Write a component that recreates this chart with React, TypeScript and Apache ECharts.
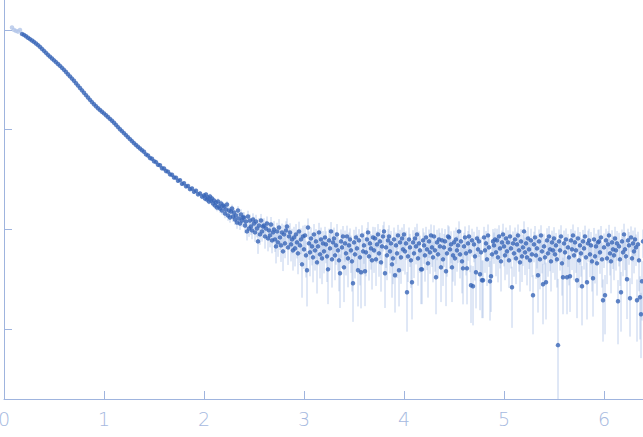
import React, { useEffect, useRef } from "react";
import * as echarts from "echarts";

// Excluded (light) points at the lowest q
const qExcluded = [0.08, 0.1, 0.12, 0.14, 0.16];
const logIExcluded = [3.025, 3.0, 2.99, 2.983, 3.0];

// Smooth low-q part (log10 intensity, sigma in linear intensity units)
const qLow = [
  0.18, 0.2, 0.22, 0.24, 0.26, 0.28, 0.3, 0.32, 0.34, 0.36, 0.38, 0.4, 0.42, 0.44, 0.46, 0.48,
  0.5, 0.52, 0.54, 0.56, 0.58, 0.6, 0.62, 0.64, 0.66, 0.68, 0.7, 0.72, 0.74, 0.76, 0.78, 0.8,
  0.82, 0.84, 0.86, 0.88, 0.9, 0.92, 0.94, 0.96, 0.98, 1.0, 1.02, 1.04, 1.06, 1.08, 1.1, 1.12,
  1.14, 1.16, 1.18, 1.2, 1.22, 1.24, 1.26, 1.28, 1.3, 1.32, 1.34, 1.36, 1.38, 1.4, 1.42, 1.44,
  1.46, 1.48, 1.5, 1.52, 1.54, 1.56, 1.58, 1.6, 1.62, 1.64, 1.66, 1.68, 1.7, 1.72, 1.74, 1.76,
  1.78, 1.8, 1.82, 1.84, 1.86, 1.88, 1.9, 1.92, 1.94, 1.96, 1.98,
];
const logILow = [
  2.96, 2.95, 2.937, 2.922, 2.908, 2.894, 2.88, 2.864, 2.848, 2.83, 2.81, 2.79, 2.77, 2.75, 2.732, 2.713,
  2.695, 2.677, 2.658, 2.64, 2.62, 2.6, 2.578, 2.556, 2.534, 2.512, 2.49, 2.466, 2.442, 2.418, 2.394, 2.37,
  2.346, 2.322, 2.299, 2.276, 2.255, 2.235, 2.215, 2.197, 2.18, 2.163, 2.145, 2.127, 2.108, 2.09, 2.07, 2.048,
  2.026, 2.004, 1.985, 1.965, 1.945, 1.925, 1.905, 1.885, 1.865, 1.847, 1.829, 1.811, 1.793, 1.778, 1.752, 1.741,
  1.716, 1.709, 1.684, 1.675, 1.649, 1.643, 1.614, 1.611, 1.586, 1.579, 1.552, 1.548, 1.521, 1.519, 1.488, 1.494,
  1.457, 1.463, 1.432, 1.435, 1.404, 1.411, 1.378, 1.388, 1.352, 1.361, 1.329,
];
const sigmaLow = [
  5.2, 5.0, 4.9, 4.7, 4.6, 4.4, 4.3, 4.1, 4.0, 3.9, 3.7, 3.6, 3.5, 3.4, 3.3, 3.2,
  3.1, 3.0, 2.9, 2.8, 2.7, 2.6, 2.6, 2.5, 2.4, 2.3, 2.3, 2.2, 2.1, 2.1, 2.0, 2.0,
  1.9, 1.9, 1.8, 1.8, 1.7, 1.7, 1.7, 1.6, 1.6, 1.6, 1.5, 1.5, 1.5, 1.4, 1.4, 1.4,
  1.4, 1.3, 1.3, 1.3, 1.3, 1.3, 1.2, 1.2, 1.2, 1.2, 1.2, 1.2, 1.2, 1.1, 1.1, 1.1,
  1.1, 1.1, 1.1, 1.1, 1.1, 1.1, 1.1, 1.1, 1.1, 1.1, 1.1, 1.1, 1.1, 1.2, 1.1, 1.2,
  1.1, 1.2, 1.2, 1.1, 1.2, 1.2, 1.2, 1.2, 1.2, 1.3, 1.2,
];

// Noisy high-q part
const qHigh = [
  2.0, 2.01, 2.02, 2.03, 2.04, 2.05, 2.06, 2.07, 2.08, 2.09,
  2.1, 2.11, 2.12, 2.13, 2.14, 2.15, 2.16, 2.17, 2.18, 2.19,
  2.2, 2.21, 2.22, 2.23, 2.24, 2.25, 2.26, 2.27, 2.28, 2.29,
  2.3, 2.31, 2.32, 2.33, 2.34, 2.35, 2.36, 2.37, 2.38, 2.39,
  2.4, 2.41, 2.42, 2.43, 2.44, 2.45, 2.46, 2.47, 2.48, 2.49,
  2.5, 2.51, 2.52, 2.53, 2.54, 2.55, 2.56, 2.57, 2.58, 2.59,
  2.6, 2.61, 2.62, 2.63, 2.64, 2.65, 2.66, 2.67, 2.68, 2.69,
  2.7, 2.71, 2.72, 2.73, 2.74, 2.75, 2.76, 2.77, 2.78, 2.79,
  2.8, 2.81, 2.82, 2.83, 2.84, 2.85, 2.86, 2.87, 2.88, 2.89,
  2.9, 2.91, 2.92, 2.93, 2.94, 2.95, 2.96, 2.97, 2.98, 2.99,
  3.0, 3.01, 3.02, 3.03, 3.04, 3.05, 3.06, 3.07, 3.08, 3.09,
  3.1, 3.11, 3.12, 3.13, 3.14, 3.15, 3.16, 3.17, 3.18, 3.19,
  3.2, 3.21, 3.22, 3.23, 3.24, 3.25, 3.26, 3.27, 3.28, 3.29,
  3.3, 3.31, 3.32, 3.33, 3.34, 3.35, 3.36, 3.37, 3.38, 3.39,
  3.4, 3.41, 3.42, 3.43, 3.44, 3.45, 3.46, 3.47, 3.48, 3.49,
  3.5, 3.51, 3.52, 3.53, 3.54, 3.55, 3.56, 3.57, 3.58, 3.59,
  3.6, 3.61, 3.62, 3.63, 3.64, 3.65, 3.66, 3.67, 3.68, 3.69,
  3.7, 3.71, 3.72, 3.73, 3.74, 3.75, 3.76, 3.77, 3.78, 3.79,
  3.8, 3.81, 3.82, 3.83, 3.84, 3.85, 3.86, 3.87, 3.88, 3.89,
  3.9, 3.91, 3.92, 3.93, 3.94, 3.95, 3.96, 3.97, 3.98, 3.99,
  4.0, 4.01, 4.02, 4.03, 4.04, 4.05, 4.06, 4.07, 4.08, 4.09,
  4.1, 4.11, 4.12, 4.13, 4.14, 4.15, 4.16, 4.17, 4.18, 4.19,
  4.2, 4.21, 4.22, 4.23, 4.24, 4.25, 4.26, 4.27, 4.28, 4.29,
  4.3, 4.31, 4.32, 4.33, 4.34, 4.35, 4.36, 4.37, 4.38, 4.39,
  4.4, 4.41, 4.42, 4.43, 4.44, 4.45, 4.46, 4.47, 4.48, 4.49,
  4.5, 4.51, 4.52, 4.53, 4.54, 4.55, 4.56, 4.57, 4.58, 4.59,
  4.6, 4.61, 4.62, 4.63, 4.64, 4.65, 4.66, 4.67, 4.68, 4.69,
  4.7, 4.71, 4.72, 4.73, 4.74, 4.75, 4.76, 4.77, 4.78, 4.79,
  4.8, 4.81, 4.82, 4.83, 4.84, 4.85, 4.86, 4.87, 4.88, 4.89,
  4.9, 4.91, 4.92, 4.93, 4.94, 4.95, 4.96, 4.97, 4.98, 4.99,
  5.0, 5.01, 5.02, 5.03, 5.04, 5.05, 5.06, 5.07, 5.08, 5.09,
  5.1, 5.11, 5.12, 5.13, 5.14, 5.15, 5.16, 5.17, 5.18, 5.19,
  5.2, 5.21, 5.22, 5.23, 5.24, 5.25, 5.26, 5.27, 5.28, 5.29,
  5.3, 5.31, 5.32, 5.33, 5.34, 5.35, 5.36, 5.37, 5.38, 5.39,
  5.4, 5.41, 5.42, 5.43, 5.44, 5.45, 5.46, 5.47, 5.48, 5.49,
  5.5, 5.51, 5.52, 5.53, 5.54, 5.55, 5.56, 5.57, 5.58, 5.59,
  5.6, 5.61, 5.62, 5.63, 5.64, 5.65, 5.66, 5.67, 5.68, 5.69,
  5.7, 5.71, 5.72, 5.73, 5.74, 5.75, 5.76, 5.77, 5.78, 5.79,
  5.8, 5.81, 5.82, 5.83, 5.84, 5.85, 5.86, 5.87, 5.88, 5.89,
  5.9, 5.91, 5.92, 5.93, 5.94, 5.95, 5.96, 5.97, 5.98, 5.99,
  6.0, 6.01, 6.02, 6.03, 6.04, 6.05, 6.06, 6.07, 6.08, 6.09,
  6.1, 6.11, 6.12, 6.13, 6.14, 6.15, 6.16, 6.17, 6.18, 6.19,
  6.2, 6.21, 6.22, 6.23, 6.24, 6.25, 6.26, 6.27, 6.28, 6.29,
  6.3, 6.31, 6.32, 6.33, 6.34, 6.35, 6.36, 6.37, 6.38, 6.39,
];
const logIHigh = [
  1.34, 1.31, 1.35, 1.3, 1.32, 1.28, 1.33, 1.29, 1.31, 1.26,
  1.29, 1.24, 1.27, 1.22, 1.28, 1.23, 1.21, 1.26, 1.19, 1.24,
  1.23, 1.16, 1.2, 1.25, 1.14, 1.19, 1.12, 1.18, 1.21, 1.13,
  1.17, 1.1, 1.14, 1.07, 1.19, 1.11, 1.06, 1.15, 1.09, 1.12,
  1.12, 1.04, 1.08, 0.98, 1.13, 1.01, 1.09, 1.03, 0.99, 1.1,
  1.06, 0.97, 1.08, 1.01, 0.88, 1.04, 0.95, 1.09, 0.98, 1.03,
  1.04, 0.93, 1.01, 1.06, 0.91, 0.99, 0.94, 1.05, 0.89, 0.97,
  1.0, 0.9, 0.83, 0.98, 0.87, 1.02, 0.92, 0.84, 0.97, 0.78,
  0.95, 0.86, 0.99, 1.03, 0.82, 0.93, 0.97, 0.85, 0.9, 0.79,
  0.92, 0.81, 0.95, 0.87, 0.76, 0.98, 0.84, 0.9, 0.65, 0.93,
  0.8, 0.94, 0.74, 0.59, 1.02, 0.86, 0.77, 0.91, 0.83, 0.72,
  0.95, 0.79, 0.88, 0.67, 0.83, 0.97, 0.75, 0.9, 0.71, 0.86,
  0.78, 0.92, 0.85, 0.73, 0.6, 0.89, 0.81, 0.98, 0.7, 0.87,
  0.91, 0.74, 0.84, 0.95, 0.79, 0.69, 0.56, 0.88, 0.82, 0.93,
  0.62, 0.86, 0.76, 0.93, 0.71, 0.84, 0.9, 0.79, 0.68, 0.46,
  0.87, 0.75, 0.92, 0.81, 0.59, 0.89, 0.72, 0.57, 0.94, 0.78,
  0.84, 0.58, 0.77, 0.9, 0.97, 0.73, 0.86, 0.81, 0.69, 0.92,
  0.79, 0.91, 0.7, 0.85, 0.95, 0.76, 0.88, 0.67, 0.83, 0.93,
  0.98, 0.56, 0.82, 0.74, 0.89, 0.93, 0.78, 0.86, 0.65, 0.71,
  0.9, 0.54, 0.84, 0.76, 0.94, 0.59, 0.87, 0.72, 0.91, 0.8,
  0.95, 0.78, 0.86, 0.37, 0.73, 0.9, 0.82, 0.69, 0.47, 0.87,
  0.76, 0.91, 0.83, 0.95, 0.71, 0.86, 0.79, 0.6, 0.6, 0.89,
  0.84, 0.74, 0.92, 0.8, 0.66, 0.88, 0.77, 0.94, 0.82, 0.72,
  0.93, 0.79, 0.52, 0.87, 0.75, 0.9, 0.83, 0.62, 0.89, 0.7,
  0.82, 0.88, 0.58, 0.76, 0.93, 0.92, 0.8, 0.85, 0.62, 0.74,
  0.87, 0.71, 0.9, 0.79, 0.84, 0.98, 0.75, 0.88, 0.68, 0.61,
  0.83, 0.92, 0.76, 0.61, 0.86, 0.93, 0.78, 0.44, 0.89, 0.43,
  0.85, 0.73, 0.57, 0.91, 0.8, 0.88, 0.55, 0.77, 0.49, 0.49,
  0.92, 0.79, 0.86, 0.7, 0.94, 0.82, 0.48, 0.53, 0.75, 0.88,
  0.84, 0.9, 0.77, 0.89, 0.72, 0.93, 0.81, 0.68, 0.87, 0.95,
  0.83, 0.74, 0.91, 0.78, 0.87, 0.69, 0.93, 0.81, 0.42, 0.86,
  0.76, 0.9, 0.71, 0.85, 0.94, 0.79, 0.67, 0.88, 0.73, 0.82,
  0.98, 0.77, 0.86, 0.72, 0.91, 0.8, 0.69, 0.89, 0.75, 0.34,
  0.85, 0.92, 0.74, 0.81, 0.54, 0.88, 0.7, 0.94, 0.78, 0.45,
  0.83, 0.72, 0.47, 0.89, 0.76, 0.93, 0.8, 0.68, 0.87, 0.79,
  0.91, 0.75, 0.84, 0.7, -0.16, 0.88, 0.79, 0.93, 0.66, 0.52,
  0.86, 0.77, 0.9, 0.52, 0.82, 0.72, 0.53, 0.89, 0.8, 0.94,
  0.74, 0.87, 0.79, 0.49, 0.91, 0.69, 0.84, 0.76, 0.43, 0.88,
  0.81, 0.93, 0.72, 0.47, 0.86, 0.89, 0.75, 0.84, 0.68, 0.51,
  0.9, 0.73, 0.83, 0.66, 0.87, 0.88, 0.77, 0.92, 0.7, 0.29,
  0.82, 0.34, 0.89, 0.71, 0.85, 0.94, 0.76, 0.68, 0.87, 0.8,
  0.74, 0.91, 0.79, 0.86, 0.28, 0.83, 0.7, 0.37, 0.88, 0.77,
  0.95, 0.8, 0.73, 0.5, 0.89, 0.84, 0.31, 0.92, 0.71, 0.86,
  0.78, 0.9, 0.82, 0.29, 0.85, 0.69, 0.32, 0.15, 0.48, 0.88,
];
const sigmaHigh = [
  1.2, 1.3, 1.2, 1.3, 1.3, 1.2, 1.4, 1.3, 1.3, 1.4,
  1.3, 1.4, 1.3, 1.4, 1.4, 1.3, 1.5, 1.4, 1.4, 1.5,
  1.4, 1.5, 1.5, 1.4, 1.6, 1.5, 1.5, 1.6, 1.5, 1.6,
  1.6, 1.5, 1.7, 1.6, 1.6, 1.7, 1.6, 1.8, 1.7, 1.7,
  1.7, 1.8, 1.7, 1.8, 1.9, 1.8, 1.8, 1.9, 1.8, 1.9,
  1.9, 1.8, 2.0, 1.9, 1.9, 2.0, 1.9, 2.0, 2.0, 1.9,
  2.0, 2.1, 2.0, 2.0, 2.1, 2.0, 2.1, 2.1, 2.0, 2.1,
  2.1, 2.0, 2.2, 2.1, 2.1, 2.2, 2.1, 2.2, 2.1, 2.2,
  2.2, 2.1, 2.3, 2.2, 2.2, 2.3, 2.2, 2.3, 2.2, 2.3,
  2.3, 2.2, 2.4, 2.3, 2.2, 2.4, 2.3, 2.3, 2.4, 2.4,
  2.3, 2.4, 2.2, 2.2, 2.4, 2.3, 2.5, 2.3, 2.4, 2.3,
  2.4, 2.3, 2.5, 2.4, 2.4, 2.3, 2.4, 2.5, 2.3, 2.4,
  2.4, 2.3, 2.5, 2.4, 2.2, 2.4, 2.5, 2.3, 2.4, 2.5,
  2.3, 2.4, 2.5, 2.4, 2.3, 2.5, 2.0, 2.4, 2.5, 2.3,
  2.3, 2.5, 2.3, 2.4, 2.5, 2.4, 2.3, 2.5, 2.4, 1.7,
  2.5, 2.4, 2.3, 2.5, 2.2, 2.3, 2.5, 2.1, 2.3, 2.5,
  2.4, 2.1, 2.5, 2.4, 2.5, 2.3, 2.4, 2.5, 2.4, 2.3,
  2.5, 2.4, 2.3, 2.5, 2.4, 2.4, 2.5, 2.3, 2.4, 2.5,
  2.4, 2.0, 2.5, 2.4, 2.3, 2.5, 2.4, 2.4, 2.4, 2.3,
  2.5, 2.0, 2.4, 2.5, 2.4, 2.2, 2.5, 2.4, 2.3, 2.5,
  2.4, 2.5, 2.3, 1.4, 2.4, 2.5, 2.4, 2.3, 1.7, 2.4,
  2.5, 2.4, 2.3, 2.5, 2.4, 2.3, 2.5, 2.2, 2.2, 2.5,
  2.4, 2.5, 2.3, 2.4, 2.5, 2.4, 2.3, 2.5, 2.4, 2.3,
  2.5, 2.4, 1.9, 2.5, 2.4, 2.3, 2.5, 2.3, 2.5, 2.3,
  2.4, 2.5, 2.1, 2.4, 2.5, 2.4, 2.3, 2.5, 2.3, 2.5,
  2.3, 2.4, 2.5, 2.4, 2.3, 2.5, 2.4, 2.3, 2.5, 2.3,
  2.5, 2.4, 2.3, 2.3, 2.4, 2.5, 2.3, 1.6, 2.4, 1.6,
  2.4, 2.3, 2.1, 2.5, 2.4, 2.3, 2.0, 2.4, 1.8, 1.8,
  2.3, 2.5, 2.4, 2.3, 2.5, 2.4, 1.8, 1.9, 2.4, 2.5,
  2.4, 2.3, 2.5, 2.4, 2.3, 2.5, 2.4, 2.4, 2.3, 2.5,
  2.5, 2.4, 2.3, 2.5, 2.4, 2.3, 2.5, 2.4, 1.6, 2.3,
  2.4, 2.5, 2.3, 2.4, 2.5, 2.4, 2.3, 2.5, 2.4, 2.3,
  2.5, 2.4, 2.3, 2.5, 2.4, 2.3, 2.5, 2.4, 2.3, 1.3,
  2.4, 2.5, 2.3, 2.4, 2.0, 2.4, 2.5, 2.3, 2.4, 1.7,
  2.3, 2.4, 1.7, 2.5, 2.4, 2.3, 2.5, 2.4, 2.3, 2.5,
  2.4, 2.5, 2.3, 2.4, 2.5, 2.4, 2.3, 2.5, 2.4, 1.9,
  2.5, 2.4, 2.3, 1.9, 2.4, 2.5, 1.9, 2.3, 2.4, 2.5,
  2.4, 2.3, 2.5, 1.8, 2.4, 2.3, 2.5, 2.4, 1.6, 2.3,
  2.5, 2.4, 2.3, 1.7, 2.5, 2.4, 2.3, 2.5, 2.4, 1.9,
  2.4, 2.5, 2.3, 2.4, 2.5, 2.4, 2.3, 2.5, 2.4, 1.2,
  2.5, 1.3, 2.4, 2.3, 2.5, 2.4, 2.3, 2.5, 2.4, 2.3,
  2.4, 2.5, 2.3, 2.4, 1.2, 2.5, 2.3, 1.4, 2.4, 2.5,
  2.5, 2.4, 2.3, 1.9, 2.4, 2.5, 1.2, 2.4, 2.3, 2.5,
  2.4, 2.5, 2.3, 1.2, 2.4, 2.5, 1.3, 0.9, 1.8, 2.4,
];

// Axis ticks
const xTickValues = [0, 1, 2, 3, 4, 5, 6];
const yTickLogValues = [0, 1, 2, 3];

const Y_MIN = -0.7;
const Y_MAX = 3.3;
const X_MIN = 0;
const X_MAX = 6.39;

export default function App() {
  const ref = useRef<HTMLDivElement>(null);

  useEffect(() => {
    if (!ref.current) return;
    const chart = echarts.init(ref.current, undefined, { renderer: "svg" });

    const toPoints = (qs: number[], ls: number[]) => qs.map((q, i) => [q, ls[i]]);
    const toBars = (qs: number[], ls: number[], ss: number[]) =>
      qs.map((q, i) => {
        const I = Math.pow(10, ls[i]);
        const lo = I - ss[i];
        const hi = I + ss[i];
        const loLog = lo > 0 ? Math.max(Math.log10(lo), Y_MIN) : Y_MIN;
        const hiLog = Math.min(Math.log10(hi), Y_MAX);
        return [q, loLog, hiLog];
      });

    const barData = [...toBars(qLow, logILow, sigmaLow), ...toBars(qHigh, logIHigh, sigmaHigh)];
    const pointData = [...toPoints(qLow, logILow), ...toPoints(qHigh, logIHigh)];
    const exclData = toPoints(qExcluded, logIExcluded);

    const axisColor = "#9fb4de";

    chart.setOption({
      animation: false,
      grid: {
        left: 4,
        right: 0,
        top: 0,
        bottom: 38,
        containLabel: false,
        outerBoundsMode: "none",
      },
      xAxis: {
        type: "value",
        min: X_MIN,
        max: X_MAX,
        interval: 1,
        axisLine: { show: true, onZero: false, lineStyle: { color: axisColor, width: 1 } },
        axisTick: { show: true, inside: true, length: 8, lineStyle: { color: axisColor }, customValues: xTickValues },
        axisLabel: {
          show: true,
          color: "#a6b9e0",
          fontSize: 19,
          fontFamily: "DejaVu Sans",
          fontWeight: 300,
          margin: 10,
          customValues: xTickValues,
        },
        splitLine: { show: false },
      },
      yAxis: {
        type: "value",
        min: Y_MIN,
        max: Y_MAX,
        axisLine: { show: true, onZero: false, lineStyle: { color: axisColor, width: 1 } },
        axisTick: { show: true, inside: true, length: 8, lineStyle: { color: axisColor }, customValues: yTickLogValues },
        axisLabel: { show: false },
        splitLine: { show: false },
      },
      series: [
        {
          type: "custom",
          name: "errors",
          data: barData,
          encode: { x: 0, y: [1, 2] },
          z: 1,
          silent: true,
          renderItem: (_params: any, api: any) => {
            const x = api.value(0);
            const p1 = api.coord([x, api.value(1)]);
            const p2 = api.coord([x, api.value(2)]);
            return {
              type: "line",
              shape: { x1: p1[0], y1: p1[1], x2: p2[0], y2: p2[1] },
              style: { stroke: "rgba(150,178,225,0.6)", lineWidth: 1 },
            };
          },
        },
        {
          type: "scatter",
          name: "excluded",
          data: exclData,
          symbol: "circle",
          symbolSize: 4.5,
          itemStyle: { color: "#b3c6e8" },
          z: 2,
          silent: true,
        },
        {
          type: "scatter",
          name: "data",
          data: pointData,
          symbol: "circle",
          symbolSize: 4.5,
          itemStyle: { color: "#3a67b8" },
          z: 3,
          silent: true,
        },
      ],
    });

    return () => chart.dispose();
  }, []);

  return (
    <div
      ref={ref}
      style={{ position: "absolute", left: 0, top: 0, width: 643, height: 437 }}
    />
  );
}
